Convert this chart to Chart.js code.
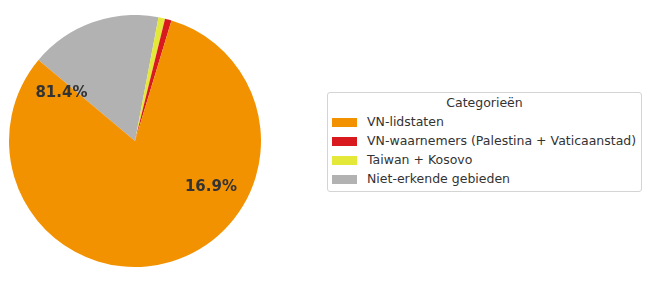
<!DOCTYPE html>
<html>
<head>
<meta charset="utf-8">
<script src="https://cdn.jsdelivr.net/npm/chart.js@4/dist/chart.umd.min.js"></script>
<style>
  body { margin:0; background:#fff; font-family:"DejaVu Sans", sans-serif; }
  #wrap { position:relative; width:655px; height:284px; }
  #pie { position:absolute; left:9px; top:15px; width:252px; height:252px; }
  #legend { position:absolute; left:327px; top:92px; width:315px; height:100px;
            border:1px solid #d4d4d4; border-radius:3px; box-sizing:border-box;
            font-size:12.5px; color:#333; }
  #legend .title { text-align:center; margin-top:0px; height:19px; line-height:19px; }
  #legend .row { height:19px; line-height:19px; white-space:nowrap; }
  #legend .sw { display:inline-block; width:25px; height:9px; margin-left:4px; margin-right:10px; vertical-align:-1px; }
</style>
</head>
<body>
<div id="wrap">
  <div id="pie"><canvas id="c"></canvas></div>
  <div id="legend"></div>
</div>
<script>
// categorieen en aantallen
var categorieen = ["VN-lidstaten", "VN-waarnemers (Palestina + Vaticaanstad)", "Taiwan + Kosovo", "Niet-erkende gebieden"];
var aantallen = [193, 2, 2, 40];
var kleuren = ["#f39200", "#d8191e", "#e4e838", "#b2b2b2"];
var legendaTitel = "Categorieën";
// welke percentages getoond worden, met hoek (graden, tegen de klok in vanaf rechts)
var labelIndex = [0, 3];
var labelHoek = [146.5, -30.6];

var totaal = aantallen.reduce(function(a, b){ return a + b; }, 0);

// chart.js tekent met de klok mee, dus volgorde omdraaien
var volgorde = [3, 2, 1, 0];

var pctPlugin = {
  id: 'pctLabels',
  afterDatasetsDraw: function(chart){
    var arc = chart.getDatasetMeta(0).data[0];
    var ctx = chart.ctx;
    ctx.save();
    ctx.font = 'bold 15px "DejaVu Sans"';
    ctx.fillStyle = '#333333';
    ctx.textAlign = 'center';
    ctx.textBaseline = 'middle';
    labelIndex.forEach(function(idx, i){
      var pct = (aantallen[idx] / totaal * 100).toFixed(1) + '%';
      var a = labelHoek[i] * Math.PI / 180;
      var r = arc.outerRadius * 0.7;
      ctx.fillText(pct, arc.x + r * Math.cos(a), arc.y - r * Math.sin(a) + 1);
    });
    ctx.restore();
  }
};

new Chart(document.getElementById("c"), {
  type: 'pie',
  data: {
    labels: volgorde.map(function(i){ return categorieen[i]; }),
    datasets: [{
      data: volgorde.map(function(i){ return aantallen[i]; }),
      backgroundColor: volgorde.map(function(i){ return kleuren[i]; }),
      borderWidth: 0
    }]
  },
  options: {
    responsive: true,
    maintainAspectRatio: false,
    animation: false,
    rotation: -50,
    layout: { padding: 0 },
    plugins: { legend: { display: false }, tooltip: { enabled: false } }
  },
  plugins: [pctPlugin]
});

var leg = document.getElementById("legend");
var html = '<div class="title">' + legendaTitel + '</div>';
categorieen.forEach(function(naam, i){
  html += '<div class="row"><span class="sw" style="background:' + kleuren[i] + '"></span>' + naam + '</div>';
});
leg.innerHTML = html;
</script>
</body>
</html>
